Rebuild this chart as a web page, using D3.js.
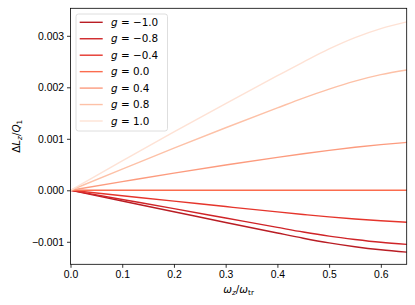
<!doctype html>
<html lang="en">
<head>
<meta charset="utf-8">
<title>Delta L_z / Q_1</title>
<style>
html, body {
	margin: 0;
	padding: 0;
	background: #fff;
	overflow: hidden;
}
svg {
	display: block;
	font-family: 'DejaVu Sans', sans-serif;
}
.tick text {
	font-size: 10.4px;
	fill: #000;
}
.tick line {
	stroke: #000;
	stroke-width: 0.8;
}
.domain {
	display: none;
}
.curve {
	fill: none;
	stroke-width: 1.4;
}
</style>
</head>
<body>
<svg id="chart" width="415" height="305"></svg>
<script src="https://cdn.jsdelivr.net/npm/d3@7/dist/d3.min.js"></script>
<script>
// x samples (omega_z / omega_tr)
var xs = [0, 0.1, 0.2, 0.3, 0.4, 0.45, 0.5, 0.55, 0.6, 0.65];

// Delta L_z / Q_1 values, in units of 1e-3
var gM10 = [0, -0.208, -0.416, -0.625, -0.83, -0.93, -1.02, -1.095, -1.155, -1.20];
var gM08 = [0, -0.178, -0.356, -0.538, -0.72, -0.81, -0.89, -0.955, -1.01, -1.05];
var gM04 = [0, -0.105, -0.21, -0.316, -0.42, -0.47, -0.517, -0.557, -0.592, -0.62];
var gP00 = [0, 0, 0, 0, 0, 0, 0, 0, 0, 0];
var gP04 = [0, 0.168, 0.334, 0.49, 0.64, 0.71, 0.775, 0.835, 0.887, 0.93];
var gP08 = [0, 0.41, 0.82, 1.215, 1.6, 1.79, 1.965, 2.12, 2.245, 2.335];
var gP10 = [0, 0.57, 1.135, 1.685, 2.225, 2.49, 2.745, 2.965, 3.14, 3.27];

var labels = ['\u22121.0', '\u22120.8', '\u22120.4', '0.0', '0.4', '0.8', '1.0'];
var colors = ['#b91d24', '#cf2428', '#e5352c', '#fb6c4e', '#fc9b7e', '#fdc1a7', '#fee2d5'];

var xTicks = [0, 0.1, 0.2, 0.3, 0.4, 0.5, 0.6];
var yTicks = [-0.001, 0, 0.001, 0.002, 0.003];

var series = [gM10, gM08, gM04, gP00, gP04, gP08, gP10].map(function (vals, i) {
	return {
		label: labels[i],
		color: colors[i],
		points: vals.map(function (v, j) { return [xs[j], v * 1e-3]; })
	};
});

var plot = { left: 70.5, right: 406.7, top: 8.3, bottom: 264.3 };

var svg = d3.select('#chart');

var x = d3.scaleLinear().domain([0, 0.65]).range([plot.left, plot.right]);
var y = d3.scaleLinear().domain([-0.001437, 0.003534]).range([plot.bottom, plot.top]);

var fmt = function (d) {
	return d3.format('.3f')(d).replace('-', '\u2212');
};

// axes
svg.append('g')
	.attr('transform', 'translate(0,' + plot.bottom + ')')
	.call(d3.axisBottom(x).tickValues(xTicks).tickFormat(d3.format('.1f')).tickSize(3.5).tickPadding(3));

svg.append('g')
	.attr('transform', 'translate(' + plot.left + ',0)')
	.call(d3.axisLeft(y).tickValues(yTicks).tickFormat(fmt).tickSize(3.5).tickPadding(3));

// curves
var line = d3.line()
	.x(function (d) { return x(d[0]); })
	.y(function (d) { return y(d[1]); })
	.curve(d3.curveMonotoneX);

svg.append('g').selectAll('path')
	.data(series).enter()
	.append('path')
	.attr('class', 'curve')
	.attr('stroke', function (d) { return d.color; })
	.attr('d', function (d) { return line(d.points); });

// frame
svg.append('rect')
	.attr('x', plot.left)
	.attr('y', plot.top)
	.attr('width', plot.right - plot.left)
	.attr('height', plot.bottom - plot.top)
	.attr('fill', 'none')
	.attr('stroke', '#000')
	.attr('stroke-width', 0.8);

// legend
var lg = svg.append('g');
lg.append('rect')
	.attr('x', 76)
	.attr('y', 14)
	.attr('width', 91.5)
	.attr('height', 117)
	.attr('rx', 2.5)
	.attr('fill', 'rgba(255,255,255,0.8)')
	.attr('stroke', '#d6d6d6')
	.attr('stroke-width', 0.8);

var items = lg.selectAll('g.item')
	.data(series).enter()
	.append('g')
	.attr('class', 'item')
	.attr('transform', function (d, i) { return 'translate(0,' + (22.3 + i * 16.45) + ')'; });

items.append('line')
	.attr('x1', 79.7)
	.attr('x2', 102.7)
	.attr('stroke', function (d) { return d.color; })
	.attr('stroke-width', 1.4);

var it = items.append('text')
	.attr('x', 111)
	.attr('dy', '0.35em')
	.style('font-size', '10.4px');
it.append('tspan').style('font-style', 'italic').text('g');
it.append('tspan').text(function (d) { return ' = ' + d.label; });

// axis labels
var xl = svg.append('text')
	.attr('x', (plot.left + plot.right) / 2)
	.attr('y', 293)
	.attr('text-anchor', 'middle')
	.style('font-size', '10.4px');
xl.append('tspan').style('font-style', 'italic').text('\u03c9');
xl.append('tspan').style('font-style', 'italic').style('font-size', '7.3px').attr('dy', 2).text('z');
xl.append('tspan').attr('dy', -2).text('/');
xl.append('tspan').style('font-style', 'italic').text('\u03c9');
xl.append('tspan').style('font-size', '7.3px').attr('dy', 2).text('tr');

var yl = svg.append('text')
	.attr('transform', 'translate(20,' + ((plot.top + plot.bottom) / 2) + ') rotate(-90)')
	.attr('text-anchor', 'middle')
	.style('font-size', '10.4px');
yl.append('tspan').text('\u0394');
yl.append('tspan').style('font-style', 'italic').text('L');
yl.append('tspan').style('font-style', 'italic').style('font-size', '7.3px').attr('dy', 2).text('z');
yl.append('tspan').attr('dy', -2).text('/');
yl.append('tspan').style('font-style', 'italic').text('Q');
yl.append('tspan').style('font-size', '7.3px').attr('dy', 2).text('1');
</script>
</body>
</html>
